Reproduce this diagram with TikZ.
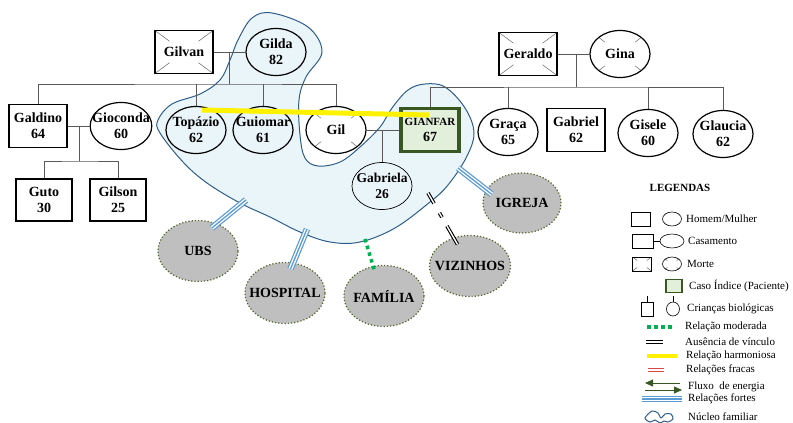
\documentclass[tikz,border=0pt]{standalone}
\usepackage{fontspec}
\setmainfont{Liberation Serif}
\usetikzlibrary{shapes.geometric,calc,arrows.meta}
\definecolor{nucleo}{RGB}{234,245,249}
\definecolor{nucleoborda}{RGB}{47,94,138}
\definecolor{forte}{RGB}{91,155,213}
\definecolor{indice}{RGB}{56,87,35}
\definecolor{indicefill}{RGB}{226,239,218}
\definecolor{moderada}{RGB}{0,176,80}
\definecolor{fraca}{RGB}{220,70,70}
\definecolor{eco}{RGB}{191,191,191}
\definecolor{ecoborda}{RGB}{79,98,40}

\begin{document}
\begin{tikzpicture}[x=1pt, y=-1pt,
		member/.style={draw, line width=1.2pt, inner sep=-7pt, align=center, font=\bfseries\fontsize{14}{16}\selectfont},
		man/.style={member, rectangle, minimum width=58pt, minimum height=43pt},
		woman/.style={member, ellipse, minimum width=60pt, minimum height=47pt},
		dead/.style={path picture={
			\foreach \c in {north west, north east, south west, south east}
				\draw[black!60, line width=0.5pt] (path picture bounding box.\c) -- ($(path picture bounding box.center)!0.5!(path picture bounding box.\c)$);}},
		famline/.style={draw=black!65, line width=0.9pt},
		resource/.style={ellipse, draw=ecoborda, dotted, line width=1.2pt, fill=eco, minimum width=80pt, minimum height=61pt, inner sep=-10pt, font=\bfseries\fontsize{14}{16}\selectfont},
		strong/.style={draw=forte, line width=6.5pt, postaction={draw=white, line width=4pt}, postaction={draw=forte, line width=1.3pt}},
		moderate/.style={draw=moderada, line width=3.5pt, dash pattern=on 3.5pt off 3.5pt},
		absent/.style={draw=black, line width=3.6pt, postaction={draw=white, line width=1.4pt}},
		harmonic/.style={draw=yellow, line width=5pt},
		weak/.style={draw=fraca, line width=3.4pt, postaction={draw=white, line width=1.2pt}},
		legtext/.style={anchor=west, inner sep=0pt, font=\fontsize{11}{12}\selectfont},
		lgman/.style={draw, line width=0.6pt, minimum width=19pt, minimum height=14pt, inner sep=0pt},
		lgwoman/.style={lgman, ellipse}]
	\useasboundingbox (0,0) rectangle (793,423);

	\draw[draw=nucleoborda, fill=nucleo, line width=1pt] plot[smooth cycle, tension=0.6] coordinates {
		(272,13) (308,27) (322,52) (306,77) (299,100) (300,135) (305,158) (318,166) (340,162) (360,147) (380,127) (392,108)
		(408,90) (425,84) (445,87) (465,108) (474,133) (466,158) (448,185) (430,202) (395,228) (360,242) (330,242) (300,232)
		(270,217) (240,203) (207,183) (183,162) (160,133) (158,120) (172,104) (200,94) (220,80) (230,60) (238,40) (252,18)};

	\node[man, dead] (gilvan) at (184,52) {Gilvan};
	\node[woman] (gilda) at (276,52) {Gilda\\82};

	\node[man] (galdino) at (38,126) {Galdino\\64};
	\node[woman] (gioconda) at (121,126) {Gioconda\\60};
	\node[man, minimum width=56pt, minimum height=42pt] (guto) at (44,200) {Guto\\30};
	\node[man, minimum width=56pt, minimum height=42pt] (gilson) at (118,200) {Gilson\\25};

	\node[woman] (topazio) at (196,130) {Topázio\\62};
	\node[woman] (guiomar) at (263,130) {Guiomar\\61};
	\node[woman, dead] (gil) at (336,130) {Gil};
	\node[man, draw=indice, fill=indicefill, line width=3.5pt] (gianfar) at (430,130) {{\fontsize{11}{13}\selectfont GIANFAR}\\67};
	\node[woman, line width=0.7pt, font=\bfseries\fontsize{13.5}{16}\selectfont] (gabriela) at (382,186) {Gabriela\\26};

	\node[man, dead] (geraldo) at (528,54) {Geraldo};
	\node[woman, dead] (gina) at (620,54) {Gina};
	\node[woman] (graca) at (508,132) {Graça\\65};
	\node[man] (gabriel) at (576,130) {Gabriel\\62};
	\node[woman] (gisele) at (648,133) {Gisele\\60};
	\node[woman] (glaucia) at (723,134) {Glaucia\\62};

	\coordinate (sib1) at (229,84);
	\coordinate (sib2) at (79,161);
	\coordinate (sib3) at (576,87);

	\draw[famline] (gilvan) -- (gilda);
	\draw[famline] (sib1) -- (sib1 |- gilvan.east);
	\draw[famline] (galdino.north) |- (sib1) -| (gil.north);
	\draw[famline] (topazio.north) -- (topazio.north |- sib1);
	\draw[famline] (guiomar.north) -- (guiomar.north |- sib1);

	\draw[famline] (galdino) -- (gioconda);
	\draw[famline] (sib2) -- (sib2 |- galdino.east);
	\draw[famline] (guto.north) |- (sib2) -| (gilson.north);

	\draw[famline] (gil) -- (gianfar);
	\draw[famline] (gabriela.north) -- (gabriela.north |- gil.east);

	\draw[famline] (geraldo) -- (gina);
	\draw[famline] (sib3) -- (sib3 |- geraldo.east);
	\draw[famline] (gianfar.north) |- (sib3) -| (glaucia.north);
	\draw[famline] (graca.north) -- (graca.north |- sib3);
	\draw[famline] (gisele.north) -- (gisele.north |- sib3);

	\node[resource] (ubs) at (198,251) {UBS};
	\node[resource] (hosp) at (285,293) {HOSPITAL};
	\node[resource] (fam) at (384,296) {FAMÍLIA};
	\node[resource, minimum width=81pt] (viz) at (470,266) {VIZINHOS};
	\node[resource, minimum width=78pt, minimum height=60pt] (igreja) at (522,203) {IGREJA};

	\coordinate (nucUBS) at (246,200);
	\coordinate (nucHosp) at (307,229);
	\coordinate (nucFam) at (365,239);
	\coordinate (nucViz) at (428,193);
	\coordinate (nucIgreja) at (458,168);

	\draw[strong, shorten >=-7pt] (nucUBS) -- (ubs.55);
	\draw[strong, shorten >=-7pt] (nucHosp) -- (hosp.75);
	\draw[moderate, shorten >=-5pt] (nucFam) -- (fam.110);
	\draw[absent, dash pattern=on 12pt off 11pt on 5pt off 10pt on 22pt, shorten >=-8pt] (nucViz) -- (viz.120);
	\draw[strong, shorten >=-7pt] (nucIgreja) -- (igreja.160);

	\draw[harmonic] ($(topazio.center)+(6,-20)$) -- ($(gianfar.center)+(-1,-15)$);

	\node[font=\bfseries\fontsize{11}{13}\selectfont] (legendas) at (680,188) {LEGENDAS};

	\node[lgman] (lgHomem) at (641,219) {};
	\node[lgwoman] (lgMulher) at (672,219) {};
	\node[legtext] (txHomem) at (686,219) {Homem/Mulher};

	\node[lgman, minimum width=21pt] (lgCasa1) at (643,241) {};
	\node[lgwoman, minimum width=24pt] (lgCasa2) at (672,241) {};
	\draw (lgCasa1) -- (lgCasa2);
	\node[legtext] (txCasa) at (688,241) {Casamento};

	\node[lgman, dead] (lgMorte1) at (642,264) {};
	\node[lgwoman, dead] (lgMorte2) at (672,264) {};
	\node[legtext] (txMorte) at (687,264) {Morte};

	\node[lgman, draw=indice, fill=indicefill, line width=1.8pt, minimum width=16pt, minimum height=13pt] (lgIndice) at (674,286) {};
	\node[legtext] (txIndice) at (689,286) {Caso Índice (Paciente)};

	\node[lgman, minimum width=12pt] (lgFilho) at (647,309) {};
	\node[lgwoman, minimum width=13pt] (lgFilha) at (673,309) {};
	\draw (lgFilho.north) -- ++(0,-6);
	\draw (lgFilha.north) -- ++(0,-6);
	\node[legtext] (txFilhos) at (687,309) {Crianças biológicas};

	\node[legtext] (txModerada) at (685,327) {Relação moderada};
	\draw[moderate] ([xshift=-38pt]txModerada.west) -- ([xshift=-11pt]txModerada.west);

	\node[legtext] (txAusencia) at (685,342) {Ausência de vínculo};
	\draw[absent] ([xshift=-39pt]txAusencia.west) -- ([xshift=-22pt]txAusencia.west);

	\node[legtext] (txHarmonia) at (686,356) {Relação harmoniosa};
	\draw[harmonic, line width=4pt] ([xshift=-39pt]txHarmonia.west) -- ([xshift=-9pt]txHarmonia.west);

	\node[legtext] (txFracas) at (686,370) {Relações fracas};
	\draw[weak] ([xshift=-38pt]txFracas.west) -- ([xshift=-22pt]txFracas.west);

	\node[legtext] (txFluxo) at (688,387) {Fluxo \ de energia};
	\draw[indice, line width=0.8pt, -{Triangle[length=8pt, width=7pt]}] ([xshift=-8pt, yshift=4pt]txFluxo.west) -- ([xshift=-43pt, yshift=4pt]txFluxo.west);
	\draw[indice, line width=0.8pt, -{Triangle[length=8pt, width=7pt]}] ([xshift=-43pt, yshift=-3pt]txFluxo.west) -- ([xshift=-6pt, yshift=-3pt]txFluxo.west);

	\node[legtext] (txFortes) at (688,399) {Relações fortes};
	\draw[strong] ([xshift=-46pt]txFortes.west) -- ([xshift=-6pt]txFortes.west);

	\node[legtext] (txNucleo) at (688,417) {Núcleo familiar};
	\draw[nucleoborda, line width=1pt] plot[smooth cycle] coordinates {
		(645,418) (652,411) (658,413) (661,418) (665,414) (671,414) (673,419) (668,422) (664,421) (660,423) (655,420) (650,422)};
\end{tikzpicture}
\end{document}
